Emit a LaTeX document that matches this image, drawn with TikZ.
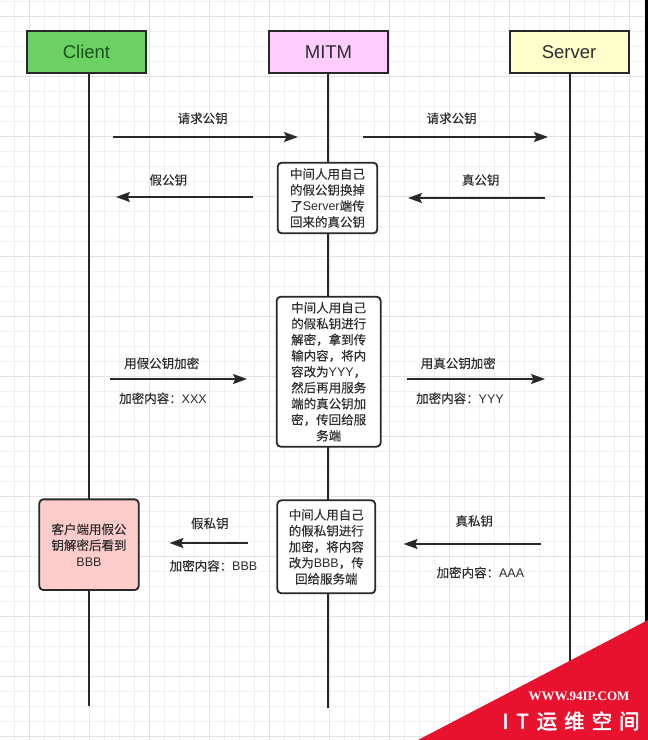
\documentclass[tikz,border=0pt]{standalone}
\usepackage{fontspec}
\setmainfont{Liberation Sans}
\newfontfamily\cjk[FakeBold=0.15]{Noto Sans CJK SC}
\newfontfamily\latf{Liberation Sans}
\newfontfamily\wmcjk[FakeBold=2.5]{Noto Sans CJK SC}
\newfontfamily\wmserif{Liberation Serif}
\usetikzlibrary{arrows.meta}
\definecolor{gridminor}{RGB}{240,240,244}
\definecolor{gridmajor}{RGB}{226,226,232}
\definecolor{linec}{RGB}{40,40,40}
\definecolor{textc}{RGB}{45,45,45}
\definecolor{clientfill}{RGB}{107,209,100}
\definecolor{clienttext}{RGB}{25,85,25}
\definecolor{mitmfill}{RGB}{255,204,255}
\definecolor{serverfill}{RGB}{255,255,204}
\definecolor{pinkfill}{RGB}{255,204,204}
\definecolor{wmred}{RGB}{233,18,46}
\begin{document}
\begin{tikzpicture}[x=1pt,y=-1pt,
  head/.style={draw=linec, line width=2pt, minimum width=119pt, minimum height=42pt, inner sep=0pt, font=\fontsize{18.5}{22}\selectfont},
  note/.style={draw=linec, line width=1.8pt, rounded corners=4pt, fill=white, align=center, inner sep=0pt, font=\cjk\fontsize{12.5}{16}\selectfont, text=textc},
  lbl/.style={font=\cjk\fontsize{12.5}{15}\selectfont, text=textc, inner sep=0pt},
  msg/.style={draw=linec, line width=2pt, -{Stealth[length=14pt,width=10pt,inset=2.5pt]}},
  life/.style={draw=linec, line width=2.6pt}]
\useasboundingbox (0,0) rectangle (648,740);
\fill[white] (0,0) rectangle (648,740);
% grid
\foreach \k in {1,...,43} {
  \pgfmathsetmacro{\xx}{-0.7+15*\k}
  \draw[gridminor, line width=0.8pt] (\xx,0) -- (\xx,740);
}
\foreach \k in {0,...,49} {
  \pgfmathsetmacro{\yy}{1.7+15*\k}
  \draw[gridminor, line width=0.8pt] (0,\yy) -- (648,\yy);
}
\foreach \m in {0,...,10} {
  \pgfmathsetmacro{\xx}{29.3+60*\m}
  \draw[gridmajor, line width=0.9pt] (\xx,0) -- (\xx,740);
}
\foreach \m in {0,...,12} {
  \pgfmathsetmacro{\yy}{16.7+60*\m}
  \draw[gridmajor, line width=0.9pt] (0,\yy) -- (648,\yy);
}
% header boxes
\node[head, fill=clientfill, text=clienttext] (client) at (86.5,52) {Client};
\node[head, fill=mitmfill, text=textc] (mitm) at (328.5,52) {MITM};
\node[head, fill=serverfill, text=textc] (server) at (569,52) {Server};
% lifeline ends
\coordinate (clbot) at (89,706);
\coordinate (mibot) at (328,708);
\coordinate (sebot) at (570,706);
\draw[life] (clbot |- client.south) -- (clbot);
\draw[life] (mibot |- mitm.south) -- (mibot);
\draw[life] (sebot |- server.south) -- (sebot);
% notes
\node[note, minimum width=99.6pt, minimum height=70.6pt] (n1) at (327.5,198) {中间人用自己\\的假公钥换掉\\了{\latf Server}端传\\回来的真公钥};
\node[note, minimum width=104pt, minimum height=150pt] (n2) at (328.7,371.7) {中间人用自己\\的假私钥进行\\解密，拿到传\\输内容，将内\\容改为{\latf YYY}，\\然后再用服务\\端的真公钥加\\密，传回给服\\务端};
\node[note, minimum width=98pt, minimum height=93pt] (n3) at (326.3,546.8) {中间人用自己\\的假私钥进行\\加密，将内容\\改为{\latf BBB}，传\\回给服务端};
\node[note, fill=pinkfill, minimum width=99.4pt, minimum height=90.7pt] (n4) at (89,544.7) {客户端用假公\\钥解密后看到\\{\latf BBB}};
% message arrows
\coordinate (a1s) at (113,137); \coordinate (a1e) at (298,137);
\coordinate (a2s) at (363,137); \coordinate (a2e) at (548,137);
\coordinate (a3s) at (253,197); \coordinate (a3e) at (116,197);
\coordinate (a4s) at (545,198); \coordinate (a4e) at (408,198);
\coordinate (a5s) at (110,379); \coordinate (a5e) at (247,379);
\coordinate (a6s) at (407,379); \coordinate (a6e) at (545,379);
\coordinate (a7s) at (248,543); \coordinate (a7e) at (169.5,543);
\coordinate (a8s) at (541,544); \coordinate (a8e) at (403.6,544);
\draw[msg] (a1s) -- (a1e);
\draw[msg] (a2s) -- (a2e);
\draw[msg] (a3s) -- (a3e);
\draw[msg] (a4s) -- (a4e);
\draw[msg] (a5s) -- (a5e);
\draw[msg] (a6s) -- (a6e);
\draw[msg] (a7s) -- (a7e);
\draw[msg] (a8s) -- (a8e);
% labels
\node[lbl] (l1) at (202.7,118.3) {请求公钥};
\node[lbl] (l2) at (451.7,118.3) {请求公钥};
\node[lbl] (l3) at (168.3,180) {假公钥};
\node[lbl] (l4) at (480.7,180) {真公钥};
\node[lbl] (l5) at (161.7,363.3) {用假公钥加密};
\node[lbl] (l5b) at (163,398.3) {加密内容：{\latf XXX}};
\node[lbl] (l6) at (458.3,363.3) {用真公钥加密};
\node[lbl] (l6b) at (460,398.3) {加密内容：{\latf YYY}};
\node[lbl] (l7) at (209.8,523.4) {假私钥};
\node[lbl] (l7b) at (213.5,565.8) {加密内容：{\latf BBB}};
\node[lbl] (l8) at (474.2,521) {真私钥};
\node[lbl] (l8b) at (480.4,572.6) {加密内容：{\latf AAA}};
% right edge border
\draw[black, line width=3pt] (646.5,0) -- (646.5,622);
% watermark
\fill[wmred] (648,620) -- (418,740) -- (648,740) -- cycle;
\node[text=white, inner sep=0pt, font=\wmserif\bfseries\fontsize{13}{15}\selectfont] (wm1) at (579,696) {WWW.94IP.COM};
\node[text=white, inner sep=0pt, font=\wmcjk\fontsize{20.5}{22}\selectfont] (wm2) at (571,721) {I\kern8pt T\kern8pt 运\kern7pt 维\kern7pt 空\kern7pt 间};
\end{tikzpicture}
\end{document}
